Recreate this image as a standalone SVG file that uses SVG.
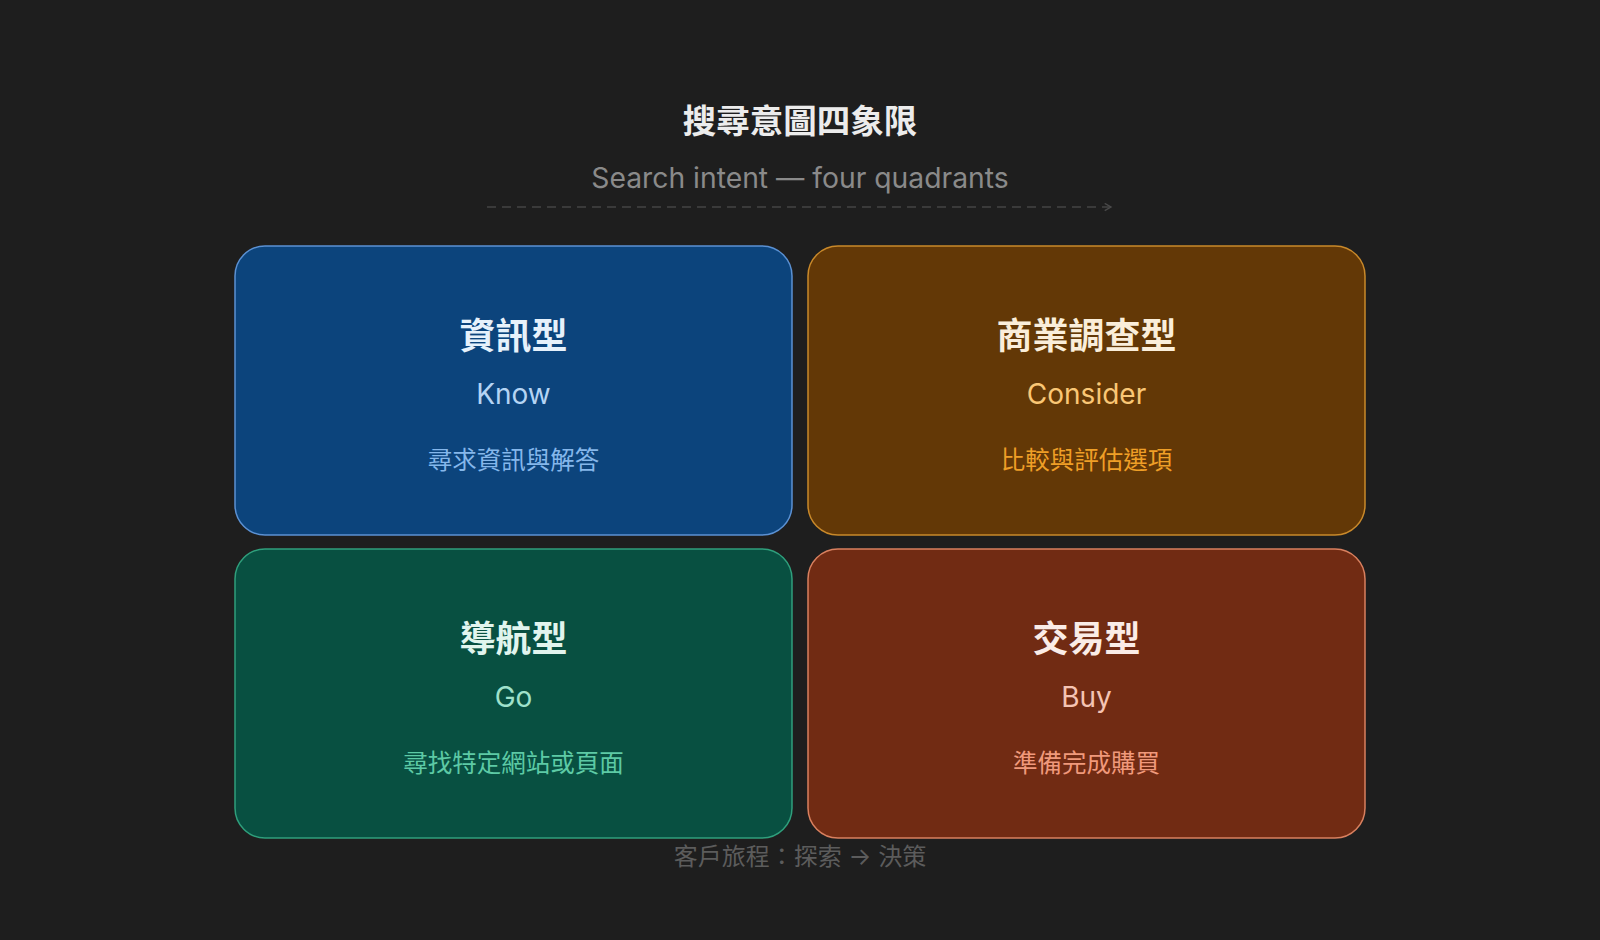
<svg xmlns="http://www.w3.org/2000/svg" width="1600" height="940" viewBox="0 0 1600 940">
<defs>
<style>
.t{font-family:"Inter","Liberation Sans","Noto Sans CJK TC",sans-serif;text-anchor:middle}
.c{font-family:"Liberation Sans","Noto Sans CJK TC",sans-serif}
.h{font-size:36px;font-weight:700}
.s{font-size:28px}
.d{font-size:24.5px}
.box{stroke-width:1.5}
</style>
<marker id="arr" viewBox="0 0 10 10" refX="8" refY="5" markerWidth="9" markerHeight="9" markerUnits="userSpaceOnUse" orient="auto">
<path d="M1,1 L8,5 L1,9" fill="none" stroke="#4a4a4a" stroke-width="1.5"/>
</marker>
</defs>
<rect width="1600" height="940" fill="#1e1e1e"/>
<g id="title">
<text class="t c" x="800" y="133" font-size="33.5" font-weight="700" fill="#ececec">搜尋意圖四象限</text>
<text class="t" x="800" y="188" font-size="28.3" fill="#8a8a8a">Search intent — four quadrants</text>
</g>
<g id="connectors">
<line x1="487" y1="207" x2="1111" y2="207" stroke="#444444" stroke-width="1.5" stroke-dasharray="9 6" marker-end="url(#arr)"/>
</g>
<g id="know">
<rect class="box" x="235" y="246" width="557" height="289" rx="30" fill="#0c447c" stroke="#5b91d3"/>
<text class="t c h" x="513.5" y="349" fill="#e6f1fb">資訊型</text>
<text class="t s" x="513.5" y="404" fill="#b5d4f4">Know</text>
<text class="t c d" x="513.5" y="469" fill="#85b7eb">尋求資訊與解答</text>
</g>
<g id="consider">
<rect class="box" x="808" y="246" width="557" height="289" rx="30" fill="#633806" stroke="#c9892a"/>
<text class="t c h" x="1086.5" y="349" fill="#faeeda">商業調查型</text>
<text class="t s" x="1086.5" y="404" fill="#fac775">Consider</text>
<text class="t c d" x="1086.5" y="469" fill="#ef9f27">比較與評估選項</text>
</g>
<g id="go">
<rect class="box" x="235" y="549" width="557" height="289" rx="30" fill="#085041" stroke="#2f9f7c"/>
<text class="t c h" x="513.5" y="652" fill="#e1f5ee">導航型</text>
<text class="t s" x="513.5" y="707" fill="#9fe1cb">Go</text>
<text class="t c d" x="513.5" y="772" fill="#5dcaa5">尋找特定網站或頁面</text>
</g>
<g id="buy">
<rect class="box" x="808" y="549" width="557" height="289" rx="30" fill="#712b13" stroke="#d9805f"/>
<text class="t c h" x="1086.5" y="652" fill="#faece7">交易型</text>
<text class="t s" x="1086.5" y="707" fill="#f5c4b3">Buy</text>
<text class="t c d" x="1086.5" y="772" fill="#f0997b">準備完成購買</text>
</g>
<g id="footer">
<text class="t" x="800" y="865" font-size="24" fill="#5c5c5c">客戶旅程：探索 → 決策</text>
</g>
</svg>
